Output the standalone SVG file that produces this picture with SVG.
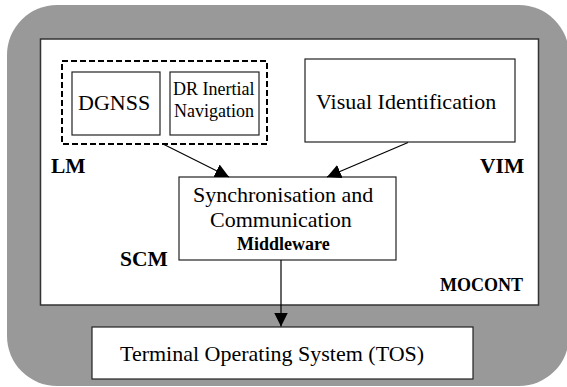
<svg xmlns="http://www.w3.org/2000/svg" width="567" height="387" viewBox="0 0 567 387">
<defs>
<style>
.box{fill:#fff;stroke:#222;stroke-width:1.2}
.t{font-family:"Liberation Serif","Times New Roman",serif;fill:#000}
.b{font-family:"Liberation Serif","Times New Roman",serif;font-weight:bold;fill:#000}
.con{stroke:#000;stroke-width:1.2;fill:none;marker-end:url(#ah)}
</style>
<marker id="ah" viewBox="0 0 14 14" refX="14" refY="7" markerWidth="14" markerHeight="14" markerUnits="userSpaceOnUse" orient="auto">
<path d="M0,0 L14,7 L0,14 z" fill="#000"/>
</marker>
</defs>
<g id="background">
<rect x="7" y="5" width="562" height="381" rx="50" ry="50" fill="#999"/>
</g>
<g id="mocont">
<rect x="40.5" y="39" width="498" height="266" fill="#fff" stroke="#333" stroke-width="1.5"/>
<text class="b" x="440" y="291" font-size="18">MOCONT</text>
</g>
<g id="lm">
<rect x="62" y="61" width="205" height="83" fill="none" stroke="#000" stroke-width="2" stroke-dasharray="6 3"/>
<text class="b" x="51" y="173" font-size="21.5">LM</text>
</g>
<g id="dgnss">
<rect class="box" x="72" y="72" width="88" height="63"/>
<text class="t" x="78" y="110" font-size="22">DGNSS</text>
</g>
<g id="dr">
<rect class="box" x="170" y="72" width="89" height="63"/>
<text class="t" x="173" y="95" font-size="18">DR Inertial</text>
<text class="t" x="174" y="116.5" font-size="18">Navigation</text>
</g>
<g id="vim">
<rect class="box" x="305" y="59" width="210" height="83"/>
<text class="t" x="316" y="109" font-size="22">Visual Identification</text>
<text class="b" x="480" y="173" font-size="21.5">VIM</text>
</g>
<g id="scm">
<rect class="box" x="179" y="177" width="217" height="83"/>
<text class="t" x="193" y="201.5" font-size="22">Synchronisation and</text>
<text class="t" x="210" y="226.5" font-size="22">Communication</text>
<text class="b" x="237" y="249.5" font-size="18">Middleware</text>
<text class="b" x="120" y="266" font-size="21.5">SCM</text>
</g>
<g id="tos">
<rect class="box" x="92" y="327" width="381" height="52"/>
<text class="t" x="120" y="361" font-size="22">Terminal Operating System (TOS)</text>
</g>
<g id="connectors">
<line class="con" x1="163" y1="144" x2="229" y2="177"/>
<line class="con" x1="408" y1="142.5" x2="327" y2="177"/>
<line class="con" x1="281" y1="260" x2="281" y2="326.5"/>
</g>
</svg>
